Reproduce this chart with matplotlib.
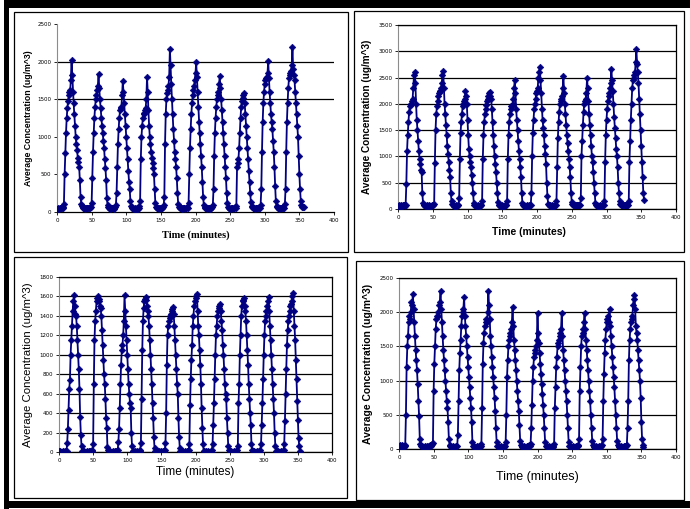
import numpy as np
import matplotlib
matplotlib.use("Agg")
import matplotlib.pyplot as plt
from matplotlib.patches import Rectangle

# concentration readings (ug/m^3), one per minute, grouped by cycle
conc_a = [
    [40, 45, 50, 45, 50, 55, 50, 50, 55, 60, 110,
     500, 780, 1050, 1250, 1380, 1480, 1550, 1600, 1620, 1750, 2020, 1820, 1600, 1450, 1300, 1150, 1000, 900, 820,
     720, 660, 600, 420, 200, 110, 75, 60,
     55, 50, 50, 45, 50, 55, 50, 50, 55, 60, 55, 70],
    [120, 450, 800, 1050, 1250, 1400, 1500, 1560, 1620, 1680, 1835, 1650, 1500, 1380, 1250, 1150, 1050, 950, 850,
     700, 580, 420, 180, 90, 65, 55, 50, 45, 50, 55, 50, 50, 45, 55, 60, 90],
    [250, 600, 900, 1100, 1250, 1350, 1380, 1400, 1550, 1742, 1600, 1450, 1300, 1150, 1000, 850, 700, 550, 400,
     300, 150, 80, 60, 50, 45, 40, 45, 50, 40, 45, 50, 45, 55, 80],
    [150, 700, 1000, 1150, 1250, 1300, 1320, 1350, 1380, 1500, 1790, 1600, 1350, 1150, 1000, 900, 800, 720, 650,
     580, 500, 300, 120, 70, 55, 50, 50, 45, 50, 55, 50, 50, 55, 60, 90],
    [200, 900, 1300, 1500, 1580, 1620, 1680, 1800, 2163, 1950, 1700, 1500, 1300, 1100, 950, 800, 700, 600, 450,
     250, 110, 70, 55, 50, 50, 45, 50, 55, 50, 50, 45, 50, 55, 60, 55, 120],
    [500, 850, 1100, 1300, 1450, 1550, 1620, 1680, 1750, 1850, 1990, 1800, 1600, 1400, 1200, 1050, 900, 750, 600,
     400, 200, 90, 60, 55, 50, 45, 50, 55, 50, 50, 45, 50, 55, 60, 90],
    [300, 750, 1050, 1250, 1400, 1500, 1550, 1600, 1700, 1808, 1650, 1500, 1350, 1200, 1050, 900, 750, 600, 450,
     250, 120, 70, 55, 50, 45, 50, 55, 50, 45, 50, 55, 60, 55, 80],
    [600, 650, 700, 850, 1050, 1250, 1400, 1480, 1520, 1550, 1578, 1450, 1300, 1150, 1000, 850, 700, 550, 400,
     250, 130, 80, 60, 55, 50, 50, 45, 50, 55, 50, 50, 55, 60, 55, 90],
    [300, 800, 1200, 1450, 1600, 1700, 1750, 1780, 1800, 1850, 2008, 1780, 1600, 1450, 1300, 1200, 1100, 950, 800,
     600, 350, 150, 80, 60, 55, 50, 45, 50, 55, 50, 50, 55, 60, 55, 100],
    [300, 800, 1200, 1450, 1650, 1780, 1820, 1850, 1880, 1950, 2190, 1900, 1820, 1750, 1600, 1450, 1300, 1150,
     1000, 750, 500, 300, 150, 90, 70, 65, 60],
]

conc_b = [
    [60, 65, 70, 65, 60, 70, 65, 70, 75, 70, 65, 80,
     480, 1100, 1400, 1650, 1850, 1950, 2000, 2000, 2050, 2100, 2300, 2550, 2614, 2400, 2000, 1700, 1500, 1300,
     1100, 950, 850, 750, 700, 300, 120, 80,
     70, 65, 60, 65, 70, 65, 60, 70, 65, 60, 65, 70, 75, 70, 90],
    [870, 1500, 1800, 1950, 2050, 2150, 2200, 2250, 2250, 2300, 2400, 2550, 2627, 2300, 2000, 1800, 1600, 1400,
     1200, 1050, 900, 750, 600, 300, 150, 90, 70, 65, 60, 65, 70, 60, 65, 70, 75, 200],
    [950, 1450, 1650, 1800, 1950, 2000, 2050, 2100, 2253, 2150, 2000, 1700, 1400, 1150, 1000, 900, 800, 650, 500,
     300, 120, 80, 70, 65, 60, 65, 70, 65, 60, 65, 70, 75, 150],
    [950, 1400, 1650, 1800, 1900, 1980, 2050, 2100, 2150, 2200, 2150, 2234, 2100, 1900, 1650, 1400, 1200, 1000,
     850, 700, 500, 300, 130, 80, 70, 65, 60, 65, 70, 65, 60, 65, 70, 75, 70, 150],
    [950, 1400, 1650, 1800, 1900, 1950, 1950, 2000, 2100, 2300, 2456, 2200, 1900, 1700, 1500, 1300, 1100, 950,
     800, 600, 300, 120, 80, 70, 65, 60, 65, 70, 65, 60, 65, 70, 75, 70, 300],
    [1000, 1450, 1700, 1900, 2000, 2100, 2200, 2250, 2300, 2500, 2600, 2709, 2450, 2200, 1900, 1700, 1550, 1400,
     1200, 1050, 850, 500, 250, 100, 75, 70, 65, 60, 65, 70, 65, 60, 65, 70, 75, 150],
    [800, 1350, 1650, 1850, 2000, 2050, 2100, 2150, 2300, 2532, 2200, 2000, 1800, 1600, 1400, 1250, 1100, 950,
     800, 600, 300, 130, 90, 80, 75, 70, 80, 75, 70, 80, 75, 70, 80, 85, 200],
    [1000, 1300, 1600, 1850, 2000, 2050, 2100, 2200, 2487, 2300, 2050, 1800, 1600, 1400, 1200, 1000, 900, 700,
     500, 300, 120, 80, 70, 65, 60, 65, 70, 65, 60, 65, 70, 75, 70, 150],
    [900, 1400, 1700, 1900, 2050, 2150, 2200, 2300, 2400, 2665, 2450, 2250, 2000, 1750, 1550, 1350, 1150, 1000,
     800, 500, 300, 150, 90, 80, 75, 70, 75, 80, 75, 70, 75, 80, 85, 80, 150],
    [900, 1300, 1700, 2000, 2300, 2450, 2500, 2550, 2600, 2800, 3044, 2750, 2600, 2400, 2100, 1800, 1500, 1200,
     900, 600, 300, 180],
]

conc_c = [
    [10, 5, 10, 5, 0, 5, 10, 5, 5, 10, 5, 10, 90,
     240, 430, 650, 740, 1000, 1150, 1300, 1450, 1550, 1611, 1500, 1420, 1400, 1300, 1150, 1000, 850, 650, 360,
     180, 60, 15,
     10, 5, 10, 5, 0, 5, 10, 5, 5, 10, 5, 10, 5, 10, 20, 80],
    [700, 1150, 1350, 1450, 1550, 1580, 1604, 1570, 1550, 1500, 1480, 1400, 1250, 1100, 950, 800, 700, 550, 350,
     250, 50, 20, 10, 5, 10, 5, 0, 5, 10, 5, 5, 10, 5, 10, 5, 20, 100],
    [240, 450, 700, 900, 1050, 1100, 1200, 1350, 1611, 1450, 1300, 1150, 1000, 850, 700, 600, 500, 450, 200, 60,
     15, 10, 5, 10, 5, 0, 5, 10, 5, 5, 10, 20, 90],
    [550, 1050, 1350, 1480, 1550, 1570, 1594, 1560, 1500, 1450, 1400, 1300, 1150, 1000, 850, 700, 500, 350, 150,
     40, 10, 5, 10, 5, 0, 5, 10, 5, 5, 10, 5, 10, 5, 10, 20, 90],
    [400, 900, 1200, 1300, 1350, 1380, 1400, 1420, 1450, 1470, 1491, 1420, 1300, 1150, 1000, 850, 700, 600, 350,
     150, 40, 10, 5, 10, 5, 0, 5, 10, 5, 5, 10, 5, 10, 20, 80],
    [480, 750, 950, 1100, 1300, 1400, 1500, 1550, 1600, 1580, 1628, 1450, 1300, 1200, 1050, 900, 700, 450, 250,
     80, 15, 10, 5, 10, 5, 0, 5, 10, 5, 5, 10, 5, 20, 80],
    [280, 500, 750, 1000, 1200, 1300, 1400, 1450, 1480, 1500, 1519, 1450, 1350, 1250, 1100, 1000, 850, 700, 600,
     550, 350, 200, 60, 20, 10, 5, 10, 5, 0, 5, 10, 5, 5, 10, 5, 20, 60],
    [500, 700, 1000, 1200, 1400, 1500, 1550, 1560, 1587, 1500, 1450, 1350, 1200, 1050, 900, 700, 550, 400, 280,
     80, 20, 10, 5, 10, 5, 0, 5, 10, 5, 5, 10, 5, 20, 80],
    [280, 500, 750, 1000, 1200, 1350, 1400, 1450, 1500, 1550, 1594, 1450, 1300, 1150, 1000, 850, 700, 550, 400,
     200, 60, 15, 10, 5, 10, 5, 0, 5, 10, 5, 5, 10, 20, 80],
    [320, 600, 850, 1100, 1250, 1350, 1400, 1450, 1500, 1520, 1550, 1600, 1635, 1450, 1300, 1150, 950, 750, 520,
     330, 140, 60, 10],
]

conc_d = [
    [40, 60, 50, 30, 50, 60, 40, 30, 50, 60,
     500, 1200, 1500, 1650, 1850, 1950, 1900, 2000, 2150, 2100, 2272, 2050, 1850, 1650, 1450, 1300, 1150, 950,
     700, 480, 150, 80, 50,
     40, 30, 20, 30, 40, 30, 20, 30, 40, 30, 50, 40, 60, 50, 70, 80, 90],
    [850, 1250, 1500, 1750, 1900, 1950, 1950, 2000, 2100, 2150, 2306, 2050, 1850, 1650, 1450, 1300, 1150, 1000,
     850, 700, 600, 400, 150, 60, 40, 30, 20, 30, 40, 30, 20, 30, 40, 50, 40, 200],
    [700, 1150, 1400, 1600, 1800, 1950, 2000, 2050, 2223, 1950, 1800, 1650, 1500, 1350, 1200, 1050, 900, 750, 600,
     400, 100, 50, 40, 30, 20, 30, 40, 30, 20, 30, 40, 30, 50, 80],
    [600, 1250, 1550, 1700, 1800, 1850, 1900, 1850, 2000, 2306, 2100, 1900, 1650, 1500, 1350, 1200, 1050, 900,
     750, 550, 300, 100, 50, 40, 30, 20, 30, 40, 30, 20, 30, 40, 30, 50, 100],
    [500, 1050, 1300, 1500, 1600, 1650, 1700, 1750, 1850, 2078, 1800, 1600, 1450, 1300, 1150, 1000, 850, 700, 550,
     350, 120, 60, 40, 30, 20, 30, 40, 30, 20, 30, 40, 50, 40, 60, 50, 70, 300],
    [650, 1000, 1200, 1350, 1400, 1450, 1500, 1600, 1990, 1700, 1550, 1400, 1250, 1100, 950, 800, 650, 500, 300,
     100, 50, 40, 30, 20, 30, 40, 30, 20, 30, 40, 30, 50, 80],
    [600, 900, 1200, 1350, 1500, 1550, 1600, 1650, 1700, 1750, 1990, 1650, 1450, 1300, 1150, 1000, 850, 700, 500,
     300, 100, 50, 40, 30, 20, 30, 40, 30, 20, 30, 40, 30, 50, 40, 60, 150],
    [850, 1200, 1500, 1650, 1700, 1750, 1850, 1990, 1750, 1600, 1450, 1300, 1150, 1000, 850, 700, 500, 300, 120,
     60, 40, 30, 20, 30, 40, 30, 20, 30, 40, 30, 50, 40, 60, 150],
    [700, 1100, 1400, 1600, 1750, 1850, 1900, 1950, 1850, 2053, 1800, 1650, 1500, 1350, 1200, 1050, 900, 700, 500,
     300, 120, 60, 40, 30, 20, 30, 40, 30, 20, 30, 40, 30, 50, 40, 60, 300],
    [700, 1300, 1600, 1750, 1850, 1900, 1950, 2100, 2200, 2257, 2050, 1800, 1700, 1600, 1450, 1300, 1150, 1000,
     750, 400, 150, 60, 30],
]

yticks_a = [0, 500, 1000, 1500, 2000, 2500]
grid_a = [1500, 2000]
yticks_b = [0, 500, 1000, 1500, 2000, 2500, 3000, 3500]
yticks_c = [0, 200, 400, 600, 800, 1000, 1200, 1400, 1600, 1800]
yticks_d = [0, 500, 1000, 1500, 2000, 2500]
xticks = [0, 50, 100, 150, 200, 250, 300, 350, 400]

W, H = 690, 509
fig = plt.figure(figsize=(W / 100, H / 100), dpi=100)
fig.patch.set_facecolor("white")


def box(x0, y0, x1, y1):
    # pixel box (top-left origin) -> figure fraction
    return [x0 / W, 1 - y1 / H, (x1 - x0) / W, (y1 - y0) / H]


def frame(x0, y0, x1, y1, lw=0.9):
    fig.patches.append(Rectangle((x0 / W, 1 - y1 / H), (x1 - x0) / W, (y1 - y0) / H,
                                 transform=fig.transFigure, fill=False, ec="black", lw=lw))


def band(x0, y0, x1, y1):
    fig.patches.append(Rectangle((x0 / W, 1 - y1 / H), (x1 - x0) / W, (y1 - y0) / H,
                                 transform=fig.transFigure, fc="black", ec="none"))


# thick outer border and panel frames
band(4, 0, W, 8)
band(4, 0, 9, H)
band(4, 501, W, 508)
frame(14, 12, 348, 252)
frame(354, 11, 684, 252)
frame(14, 257, 347, 498)
frame(356, 261, 684, 500)

navy = "#000080"
panels = [
    (conc_a, yticks_a, box(57, 24, 334, 212), dict(family="Liberation Serif", weight="bold", size=7.5),
     dict(family="Liberation Sans", weight="bold", size=6.3), (0.5, -0.1), (-0.085, 0.5)),
    (conc_b, yticks_b, box(398, 25, 676, 209), dict(family="Liberation Sans", weight="bold", size=7.5),
     dict(family="Liberation Sans", weight="bold", size=7.2), (0.47, -0.1), (-0.095, 0.5)),
    (conc_c, yticks_c, box(59, 277, 332, 452), dict(family="Liberation Sans", size=8.5),
     dict(family="Liberation Sans", size=8.2), (0.5, -0.08), (-0.095, 0.5)),
    (conc_d, yticks_d, box(399, 278, 676, 449), dict(family="Liberation Sans", size=9),
     dict(family="Liberation Sans", weight="bold", size=7.5), (0.5, -0.13), (-0.095, 0.5)),
]

for i, (cycles, yt, pos, xfont, yfont, xl, yl) in enumerate(panels):
    ax = fig.add_axes(pos)
    vals = np.concatenate([np.array(c, dtype=float) for c in cycles])
    t = np.arange(len(vals))
    ax.plot(t, vals, color=navy, lw=1.3, marker="D", ms=3.4, mew=0.4, mec=navy, zorder=3)
    ax.set_xlim(0, 400)
    ax.set_ylim(yt[0], yt[-1])
    ax.set_xticks(xticks)
    ax.set_yticks(yt)
    ax.set_xticklabels([str(v) for v in xticks])
    ax.set_yticklabels([str(v) for v in yt])
    ax.tick_params(labelsize=4, length=2, width=0.6, pad=2, direction="out")
    if i == 0:
        for g in grid_a:
            ax.axhline(g, color="black", lw=0.9, zorder=1)
        ax.spines["top"].set_visible(False)
        ax.spines["right"].set_visible(False)
    else:
        ax.yaxis.grid(True, color="black", lw=0.9, zorder=1)
        ax.set_axisbelow(True)
        for s in ("top", "right"):
            ax.spines[s].set_color("black")
            ax.spines[s].set_linewidth(0.9)
    ax.spines["left"].set_color("#8c8c8c")
    ax.spines["bottom"].set_color("black")
    ax.spines["bottom"].set_linewidth(0.9)
    ax.set_xlabel("Time (minutes)", **xfont)
    ax.set_ylabel("Average Concentration (ug/m^3)", **yfont)
    ax.xaxis.set_label_coords(*xl)
    ax.yaxis.set_label_coords(*yl)

fig.savefig("out.png", dpi=100, facecolor="white")
